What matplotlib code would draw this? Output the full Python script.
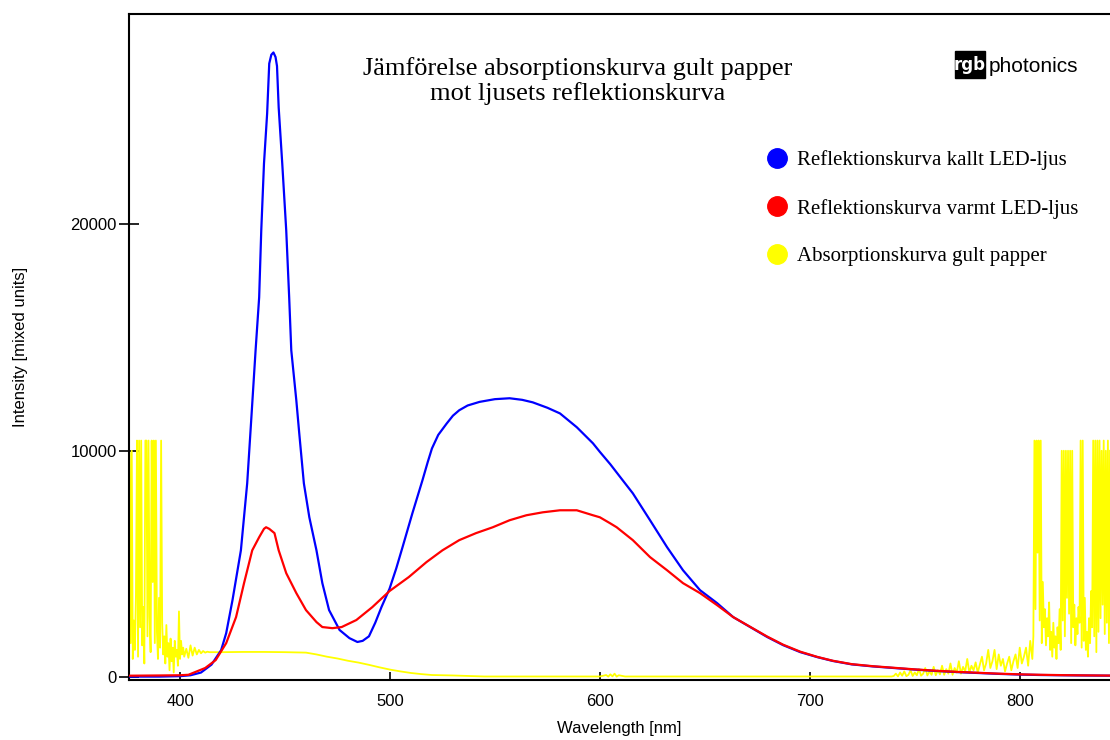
import numpy as np
import matplotlib
matplotlib.use("Agg")
import matplotlib.pyplot as plt
from matplotlib.lines import Line2D
from matplotlib.patches import Rectangle

# Kallt LED-ljus (blue)
blue_nm = [376, 390, 400, 405, 410, 415, 419.6, 422, 425, 429, 432, 434, 436, 437.7,
           438.7, 440, 441.5, 442.5, 443.5, 444.5, 445.5, 446.2, 447, 448.7, 450.6,
           452, 453, 455.4, 456.8, 459, 461.6, 465, 467.8, 471, 476, 480.7, 484.5, 487,
           490, 493, 496, 499.8, 503, 506, 510.7, 515.5, 518, 520, 523, 527, 530, 533,
           537, 542.7, 550, 557, 563, 568, 575, 581, 589, 596.7, 600, 605, 610, 615.7,
           623.9, 632, 639.6, 647.7, 655.8, 663.5, 671.6, 679.7, 687.3, 695.5, 703.6,
           711, 720, 730, 740, 750, 760, 770, 780, 790, 800, 810, 820, 830, 843]
blue_val = [20, 20, 40, 80, 200, 550, 1190, 1940, 3400, 5600, 8560, 11480, 14440, 16780,
            19730, 22690, 24900, 27110, 27500, 27600, 27400, 27000, 25170, 22690, 19730,
            16780, 14440, 12230, 10770, 8560, 7060, 5600, 4150, 2960, 2080, 1720, 1550, 1600,
            1800, 2400, 3100, 3900, 4800, 5740, 7240, 8700, 9500, 10100, 10700, 11200, 11550, 11790,
            12000, 12160, 12280, 12320, 12250, 12140, 11900, 11650, 11040, 10330, 9950, 9400, 8800, 8120,
            6930, 5740, 4720, 3840, 3270, 2650, 2210, 1770, 1410, 1100, 880,
            710, 560, 470, 400, 330, 270, 220, 180, 140, 110, 90, 80, 70, 60]

# Varmt LED-ljus (red)
red_nm = [376, 390, 400, 404, 408, 412, 417, 422, 426.7, 430.5, 434.4, 437.7, 440, 441,
          442.5, 445, 447, 450.6, 455.4, 460, 465, 467.8, 472.6, 477, 484, 491.6, 499.8,
          509, 517.4, 525, 533, 541, 549, 557, 565, 572.8, 581, 589, 596.7, 600, 604.8,
          608, 615.7, 623.9, 632, 639.6, 647.7, 655.8, 663.5, 671.6, 679.7, 687.3, 695.5,
          703.6, 711, 720, 730, 740, 750, 760, 770, 780, 790, 800, 810, 820, 830, 843]
red_val = [60, 70, 80, 100, 250, 400, 750, 1500, 2650, 4150, 5600, 6180, 6550, 6620,
           6550, 6360, 5600, 4590, 3710, 2960, 2430, 2210, 2160, 2210, 2520, 3090, 3800,
           4420, 5080, 5600, 6050, 6360, 6620, 6930, 7150, 7280, 7370, 7370, 7150, 7060, 6800,
           6620, 6050, 5300, 4720, 4150, 3710, 3180, 2650, 2220, 1790, 1430, 1120,
           890, 720, 570, 480, 410, 340, 280, 230, 190, 150, 120, 100, 85, 75, 65]

# Gult papper (yellow): noisy start, every 0.5 nm from 376 to 402
yellow_left_val = [9900, 1500, 10000, 800, 2500, 1200, 3600, 10450, 900, 10450,
                   2200, 10450, 1400, 3100, 600, 10450, 10450, 1800, 10450, 2700,
                   1100, 10450, 4200, 10450, 1500, 10450, 2000, 800, 3500, 1300,
                   10450, 2400, 1000, 1800, 600, 2300, 900, 1500, 300, 1700,
                   700, 1300, 200, 1600, 900, 1200, 500, 2900, 800, 1600,
                   1000, 1300, 900]
# smooth middle part
yellow_mid_nm = [403, 404, 405, 406, 407, 408, 409, 410, 411, 412, 413, 414, 415, 416,
                 418, 420, 430, 440, 450, 460, 465, 470, 475, 480, 485, 490, 495, 500,
                 505, 510, 515, 520, 530, 540, 545, 560, 580, 600, 603, 604, 605, 606,
                 607, 608, 609, 612, 640, 680, 720, 739]
yellow_mid_val = [1250, 850, 1400, 950, 1300, 1000, 1200, 1050, 1150, 1080, 1120, 1100, 1100, 1100,
                  1100, 1100, 1110, 1110, 1100, 1080, 1000, 900, 820, 720, 640, 540, 430, 330,
                  250, 180, 130, 90, 70, 40, 25, 25, 25, 25, 90, 20, 120, 30,
                  150, 20, 80, 25, 25, 25, 25, 25]
# noisy end, every 1 nm from 740 to 806
yellow_tail_val = [50, 150, 30, 200, 60, 250, 40, 100, 300, 50, 200, 80, 350, 60, 150,
                   400, 70, 250, 100, 450, 80, 300, 120, 500, 100, 350, 150, 600, 100,
                   400, 200, 700, 150, 450, 250, 800, 200, 500, 300, 650, 200, 550, 900,
                   300, 600, 1200, 400, 700, 1200, 350, 1000, 500, 800, 250, 600, 900,
                   300, 700, 1000, 400, 1300, 600, 900, 1300, 500, 1600, 800]
# saturated spikes, every 0.5 nm from 806.5 to 843
yellow_right_val = [1800, 10450, 3000, 10450, 5500, 10450, 2500, 10450, 1500, 4200,
                    2200, 3000, 1400, 2600, 1800, 3300, 1200, 2000, 900, 2400,
                    1300, 1800, 800, 2200, 1500, 3000, 1200, 10000, 2500, 10000,
                    1800, 10000, 3500, 10000, 2800, 10000, 1500, 10000, 2200, 3200,
                    1400, 2600, 1900, 3100, 2400, 10450, 1300, 10450, 1600, 3500,
                    1200, 2000, 900, 2600, 1500, 3800, 2200, 10450, 1800, 10450,
                    1100, 10450, 2000, 10450, 2600, 10000, 3200, 10450, 1900, 10000,
                    2400, 10450, 1500, 10000]

labels = ["Reflektionskurva kallt LED-ljus", "Reflektionskurva varmt LED-ljus",
          "Absorptionskurva gult papper"]
colors = ["#0000ff", "#ff0000", "#ffff00"]

yellow_nm = np.concatenate([376 + 0.5 * np.arange(len(yellow_left_val)),
                            yellow_mid_nm,
                            740 + np.arange(len(yellow_tail_val)),
                            806.5 + 0.5 * np.arange(len(yellow_right_val))])
yellow_val = np.concatenate([yellow_left_val, yellow_mid_val, yellow_tail_val, yellow_right_val])

fig = plt.figure(figsize=(11.1, 7.4), dpi=100)
ax = fig.add_axes([129 / 1110, 1 - 680 / 740, 1 - 129 / 1110, (680 - 14) / 740])

ax.plot(yellow_nm, yellow_val, color=colors[2], lw=1.3, zorder=2)
ax.plot(blue_nm, blue_val, color=colors[0], lw=1.6, zorder=3)
ax.plot(red_nm, red_val, color=colors[1], lw=1.6, zorder=4)

ax.set_xlim(375.7, 843)
ax.set_ylim(-130, 29300)
ax.set_xticks([400, 500, 600, 700, 800])
ax.set_yticks([0, 10000, 20000])
ax.tick_params(axis="x", direction="in", length=6, width=1.2, labelsize=12, pad=10)
ax.tick_params(axis="y", direction="inout", length=14, width=1.2, labelsize=12, pad=2)
ax.spines["right"].set_visible(False)
for s in ["left", "top", "bottom"]:
    ax.spines[s].set_linewidth(1.5)

sans = ["Liberation Sans Narrow", "Liberation Sans", "DejaVu Sans"]
for lab in ax.get_xticklabels() + ax.get_yticklabels():
    lab.set_family(sans)
ax.set_xlabel("Wavelength [nm]", fontsize=12, family=sans, labelpad=9)
ax.set_ylabel("Intensity [mixed units]", fontsize=12, family=sans, labelpad=30)

# title
fig.text(578 / 1110, 1 - 57 / 740, "Jämförelse absorptionskurva gult papper\nmot ljusets reflektionskurva",
         ha="center", va="top", fontsize=19, family="Liberation Serif", linespacing=1.12)

# logo
fig.patches.append(Rectangle((955 / 1110, 1 - 78 / 740), 30 / 1110, 27 / 740,
                             transform=fig.transFigure, color="black"))
fig.text(970 / 1110, 1 - 65 / 740, "rgb", ha="center", va="center", color="white",
         fontsize=12, fontweight="bold", family="DejaVu Sans")
fig.text(989 / 1110, 1 - 66 / 740, "photonics", ha="left", va="center",
         fontsize=15, family=sans)

# legend
handles = [Line2D([], [], ls="none", marker="o", markersize=14, color=c) for c in colors]
ax.legend(handles, labels, loc="upper left", bbox_to_anchor=(622 / 981, 1 - 126 / 666),
          frameon=False, prop={"family": "Liberation Serif", "size": 15},
          labelspacing=1.36, handletextpad=0.2, handlelength=1.5, borderpad=0)

fig.savefig("out.png", dpi=100)
